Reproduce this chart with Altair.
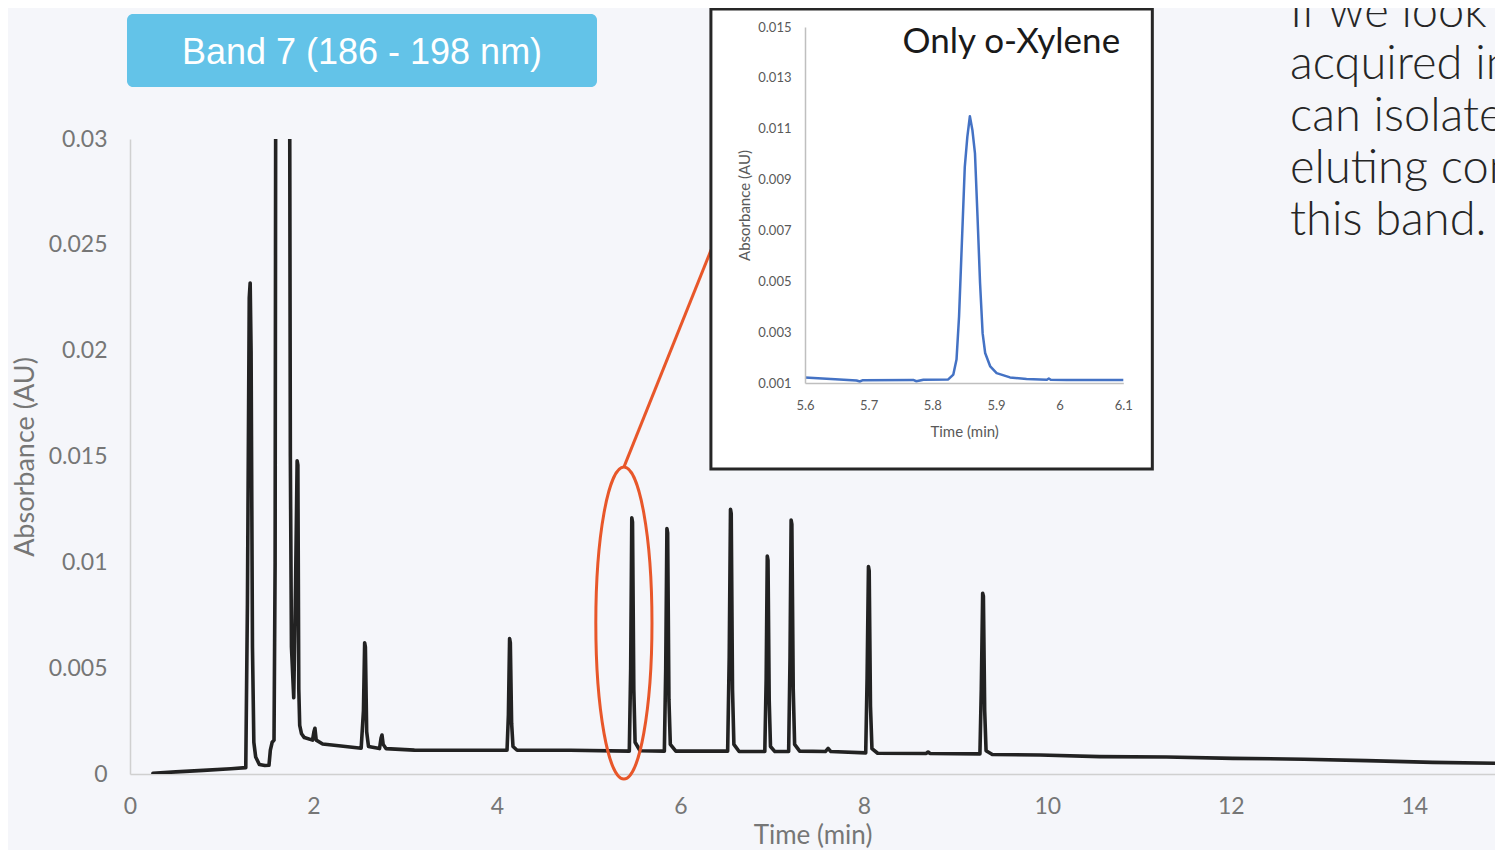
import altair as alt
import pandas as pd

# ---------------- data ----------------
main_time = [0.25, 0.50, 0.80, 1.10, 1.262, 1.280, 1.300, 1.310, 1.320, 1.335, 1.350, 1.370,
             1.410, 1.470, 1.515, 1.530, 1.550, 1.570, 1.582, 1.592, 1.735, 1.748, 1.760,
             1.785, 1.805, 1.822, 1.830, 1.840, 1.850, 1.870, 1.900, 1.990, 2.005, 2.016,
             2.030, 2.100, 2.300, 2.520, 2.545, 2.558, 2.566, 2.580, 2.600, 2.720, 2.737,
             2.747, 2.760, 2.790, 3.100, 3.600, 4.110, 4.125, 4.138, 4.146, 4.160, 4.175,
             4.220, 4.800, 5.443, 5.458, 5.470, 5.478, 5.492, 5.506, 5.560, 5.825, 5.840,
             5.853, 5.861, 5.875, 5.890, 5.950, 6.515, 6.532, 6.546, 6.554, 6.568, 6.583,
             6.640, 6.920, 6.935, 6.947, 6.955, 6.968, 6.982, 7.030, 7.180, 7.195, 7.207,
             7.215, 7.230, 7.245, 7.300, 7.580, 7.610, 7.640, 8.020, 8.035, 8.050, 8.058,
             8.072, 8.088, 8.150, 8.680, 8.700, 8.720, 9.265, 9.280, 9.295, 9.303, 9.317,
             9.332, 9.400, 9.920, 10.57, 11.30, 12.02, 12.80, 13.48, 14.20, 14.96]
main_abs = [0.00003, 0.00010, 0.00017, 0.00025, 0.00030, 0.0080, 0.0225, 0.0232, 0.0200, 0.0060,
            0.0015, 0.0008, 0.00045, 0.00040, 0.00041, 0.00113, 0.00150, 0.00160, 0.0100, 0.0450,
            0.0450, 0.0150, 0.0060, 0.0036, 0.0090, 0.0148, 0.0146, 0.0040, 0.0023, 0.0019,
            0.00172, 0.00160, 0.00200, 0.00216, 0.00160, 0.00142, 0.00132, 0.00122, 0.0030,
            0.0062, 0.0060, 0.0020, 0.00130, 0.00120, 0.00170, 0.00184, 0.00140, 0.00120,
            0.00113, 0.00112, 0.00112, 0.0028, 0.0064, 0.0062, 0.0024, 0.0013, 0.00112, 0.00112,
            0.00108, 0.0050, 0.0121, 0.0119, 0.0040, 0.0015, 0.00110, 0.00108, 0.0050, 0.0116,
            0.0114, 0.0035, 0.0014, 0.00108, 0.00108, 0.0055, 0.0125, 0.0123, 0.0040, 0.0014,
            0.00106, 0.00106, 0.0045, 0.0103, 0.0101, 0.0035, 0.0013, 0.00106, 0.00106, 0.0055,
            0.0120, 0.0118, 0.0040, 0.0014, 0.00108, 0.00106, 0.00121, 0.00106, 0.00100, 0.0045,
            0.0098, 0.0096, 0.0032, 0.0012, 0.00098, 0.00097, 0.00104, 0.00097, 0.00095, 0.0040,
            0.00854, 0.0084, 0.0030, 0.0011, 0.00092, 0.00090, 0.00082, 0.00080, 0.00074,
            0.00070, 0.00063, 0.00055, 0.00050]

inset_time = [5.600, 5.634, 5.681, 5.686, 5.691, 5.770, 5.775, 5.786, 5.825, 5.833, 5.838,
              5.842, 5.847, 5.851, 5.855, 5.859, 5.863, 5.867, 5.871, 5.875, 5.879, 5.883,
              5.891, 5.901, 5.922, 5.948, 5.980, 5.983, 5.986, 6.011, 6.100]
inset_abs = [0.00122, 0.00117, 0.00110, 0.00106, 0.00111, 0.00112, 0.00107, 0.00113, 0.00114,
             0.00133, 0.00192, 0.00362, 0.00689, 0.00950, 0.01068, 0.01149, 0.01094, 0.01003,
             0.00754, 0.00492, 0.00296, 0.00218, 0.00165, 0.00139, 0.00122, 0.00116, 0.00113,
             0.00118, 0.00113, 0.00112, 0.00112]

main_x_ticks = [0, 2, 4, 6, 8, 10, 12, 14]
main_y_ticks = [0, 0.005, 0.01, 0.015, 0.02, 0.025, 0.03]
inset_x_ticks = [5.6, 5.7, 5.8, 5.9, 6.0, 6.1]
inset_y_ticks = [0.001, 0.003, 0.005, 0.007, 0.009, 0.011, 0.013, 0.015]

band_title = "Band 7 (186 - 198 nm)"
inset_title = "Only o-Xylene"
note_lines = ["If we look at", "acquired in", "can isolate", "eluting com", "this band."]

# highlighted region (ellipse) and connector, in main-chart data units
highlight = {"t": 5.384, "a": 0.00713}
connector = {"t": 5.384, "a": 0.0145, "t2": 6.343, "a2": 0.02485}
# inset frame in inset data units
inset_frame = {"x1": 5.4522, "x2": 6.1456, "y1": -0.00238, "y2": 0.015708}

# ---------------- layout ----------------
PLOT_W, PLOT_H = 1365, 635
X_MAX = 14.88
GRAY = "#767676"
IGRAY = "#595959"
RED = "#e8572a"

x_scale = alt.Scale(domain=[0, X_MAX], nice=False, zero=False)
y_scale = alt.Scale(domain=[0, 0.03], nice=False, zero=False)
x_axis = alt.Axis(values=main_x_ticks, format="~g", title="Time (min)", grid=False,
                  ticks=False, tickSize=0, domainColor="#d0d0d0", domainWidth=1.5,
                  labelFont="Lato", labelFontSize=23, labelColor=GRAY, labelPadding=21,
                  labelFlush=False, labelOverlap=False,
                  titleFont="Lato", titleFontSize=26, titleColor=GRAY, titleFontWeight="normal",
                  titlePadding=4)
y_axis = alt.Axis(values=main_y_ticks, format="~g", title="Absorbance (AU)", grid=False,
                  ticks=False, tickSize=0, domainColor="#d0d0d0", domainWidth=1.5,
                  labelFont="Lato", labelFontSize=23, labelColor=GRAY, labelPadding=23,
                  labelFlush=False, labelOverlap=False,
                  titleFont="Lato", titleFontSize=27, titleColor=GRAY, titleFontWeight="normal",
                  titlePadding=9)

def mx(field):
    return alt.X(field, type="quantitative", scale=x_scale, axis=x_axis)

def my(field):
    return alt.Y(field, type="quantitative", scale=y_scale, axis=y_axis)

main_df = pd.DataFrame({"t": main_time, "a": main_abs})

trace = alt.Chart(main_df).mark_line(color="#222222", strokeWidth=3.6, clip=True,
                                     strokeJoin="round", strokeCap="round").encode(
    x=mx("t"), y=my("a"))

ellipse_path = "M 0 -1 A 0.18 1 0 1 1 0 1 A 0.18 1 0 1 1 0 -1 Z"
ellipse = alt.Chart(pd.DataFrame([highlight])).mark_point(
    shape=ellipse_path, filled=False, color=RED, strokeWidth=3, opacity=1, size=312 ** 2
).encode(x=mx("t"), y=my("a"))

link = alt.Chart(pd.DataFrame([connector])).mark_rule(color=RED, strokeWidth=3).encode(
    x=mx("t"), y=my("a"), x2="t2:Q", y2="a2:Q")

one = pd.DataFrame({"k": [0]})
title_box = alt.Chart(one).mark_rect(color="#63c3e8", cornerRadius=6).encode(
    x=alt.value(-3), x2=alt.value(467), y=alt.value(-125), y2=alt.value(-52))
title_txt = alt.Chart(one).mark_text(
    text=band_title, font="Liberation Sans", fontSize=36, color="white",
    align="center", baseline="middle").encode(x=alt.value(232), y=alt.value(-86))

note = alt.Chart(one).mark_text(
    text="\n".join(note_lines), lineBreak="\n", lineHeight=52, font="Lato", fontSize=47,
    fontWeight=300, color="#262626", align="left", baseline="alphabetic").encode(
    x=alt.value(1160), y=alt.value(-112))

main_layer = alt.layer(trace, ellipse, link, title_box, title_txt, note)

# ---------------- inset ----------------
ix_scale = alt.Scale(domain=[5.6, 6.1], range=[675, 993.3], nice=False, zero=False)
iy_scale = alt.Scale(domain=[0.001, 0.015], range=[244, -112], nice=False, zero=False)
ix_axis = alt.Axis(orient="bottom", offset=-391, values=inset_x_ticks, format="~g",
                   title="Time (min)", grid=False, ticks=False, tickSize=0, zindex=1,
                   domainColor="#bfbfbf", domainWidth=1.5,
                   labelFont="Lato", labelFontSize=13, labelColor=IGRAY, labelPadding=16,
                   labelFlush=False, labelOverlap=False,
                   titleFont="Lato", titleFontSize=15, titleColor=IGRAY,
                   titleFontWeight="normal", titlePadding=12)
iy_axis = alt.Axis(orient="left", offset=-675, values=inset_y_ticks, format=".3f",
                   title="Absorbance (AU)", grid=False, ticks=False, tickSize=0, zindex=1,
                   domainColor="#bfbfbf", domainWidth=1.5,
                   labelFont="Lato", labelFontSize=13, labelColor=IGRAY, labelPadding=14,
                   labelFlush=False, labelOverlap=False,
                   titleFont="Lato", titleFontSize=15, titleColor=IGRAY,
                   titleFontWeight="normal", titlePadding=5)

def ix(field):
    return alt.X(field, type="quantitative", scale=ix_scale, axis=ix_axis)

def iy(field):
    return alt.Y(field, type="quantitative", scale=iy_scale, axis=iy_axis)

frame = alt.Chart(pd.DataFrame([inset_frame])).mark_rect(
    fill="white", stroke="#262626", strokeWidth=3).encode(
    x=ix("x1"), x2="x2:Q", y=iy("y1"), y2="y2:Q")

inset_df = pd.DataFrame({"x1": inset_time, "y1": inset_abs})
inset_line = alt.Chart(inset_df).mark_line(color="#4472c4", strokeWidth=2.5,
                                           strokeJoin="round").encode(
    x=ix("x1"), y=iy("y1"))

inset_lbl = alt.Chart(pd.DataFrame({"x1": [6.095], "y1": [0.01441]})).mark_text(
    text=inset_title, font="Lato", fontSize=35, color="#1a1a1a",
    align="right", baseline="middle").encode(x=ix("x1"), y=iy("y1"))

inset_layer = alt.layer(frame, inset_line, inset_lbl)

chart = alt.layer(main_layer, inset_layer).resolve_scale(
    x="independent", y="independent"
).properties(
    width=PLOT_W, height=PLOT_H,
    padding={"left": 122, "top": 131, "right": 0, "bottom": 76},
    autosize=alt.AutoSizeParams(type="none"),
    background="#f5f6fa",
).configure_view(stroke=None)

chart.save("out.html", embed_options={"renderer": "svg", "actions": False})
